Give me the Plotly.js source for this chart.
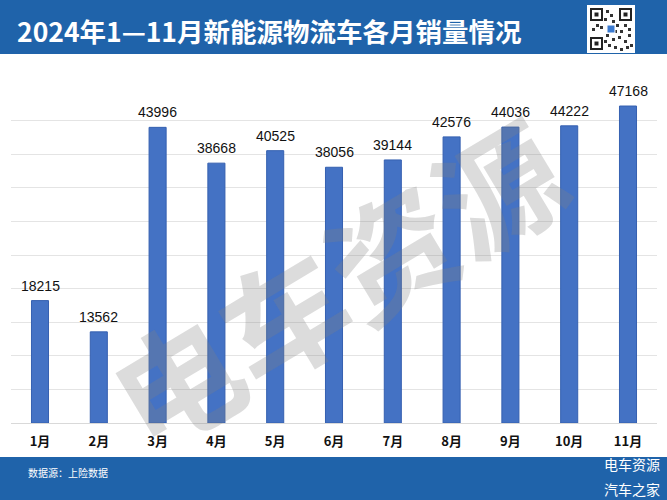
<!DOCTYPE html>
<html>
<head>
<meta charset="utf-8">
<script src="https://cdn.plot.ly/plotly-3.0.1.min.js"></script>
<style>html,body{margin:0;padding:0;background:#fff;}#chart{width:667px;height:500px;}</style>
</head>
<body>
<div id="chart"></div>
<script>
const months = ["1月","2月","3月","4月","5月","6月","7月","8月","9月","10月","11月"];
const sales = [18215, 13562, 43996, 38668, 40525, 38056, 39144, 42576, 44036, 44222, 47168];
const titleText = "2024年1—11月新能源物流车各月销量情况";
const sourceText = "数据源：上险数据";
const brandTop = "电车资源";
const brandBottom = "汽车之家";
const watermarkText = "电车资源";

const W = 667, H = 500;
const px = x => x / W;
const py = y => 1 - y / H;

const trace = {
  type: "bar",
  x: months,
  y: sales,
  marker: {color: "#4472c4", line: {color: "#3560b0", width: 1}},
  hoverinfo: "skip"
};

// QR decoration shapes
const qr = {x0: 587, y0: 5, x1: 635, y1: 53};
const shapes = [
  {type: "rect", xref: "paper", yref: "paper", x0: 0, x1: 1, y0: py(54), y1: 1, fillcolor: "#1f63aa", line: {width: 0}, layer: "below"},
  {type: "rect", xref: "paper", yref: "paper", x0: 0, x1: 1, y0: 0, y1: py(457), fillcolor: "#1f63aa", line: {width: 0}, layer: "below"},
  {type: "rect", xref: "paper", yref: "paper", x0: px(qr.x0), x1: px(qr.x1), y0: py(qr.y1), y1: py(qr.y0), fillcolor: "#ffffff", line: {width: 0}}
];
const finder = (x, y) => {
  shapes.push({type: "rect", xref: "paper", yref: "paper", x0: px(x), x1: px(x + 11), y0: py(y + 11), y1: py(y), fillcolor: "rgba(0,0,0,0)", line: {color: "#222", width: 2}});
  shapes.push({type: "rect", xref: "paper", yref: "paper", x0: px(x + 3.5), x1: px(x + 7.5), y0: py(y + 7.5), y1: py(y + 3.5), fillcolor: "#222", line: {width: 0}});
};
finder(591, 9); finder(620, 9); finder(591, 38);
const mods = [[606,10],[610,14],[604,18],[612,20],[596,24],[600,26],[608,26],[616,24],[624,24],[628,28],[620,30],[606,34],[612,38],[618,36],[624,40],[630,44],[608,44],[614,46],[620,48],[626,46],[604,40],[592,28],[628,34],[614,30]];
mods.forEach(m => shapes.push({type: "rect", xref: "paper", yref: "paper", x0: px(m[0]), x1: px(m[0] + 3), y0: py(m[1] + 3), y1: py(m[1]), fillcolor: "#333", line: {width: 0}}));
shapes.push({type: "rect", xref: "paper", yref: "paper", x0: px(607), x1: px(615), y0: py(33), y1: py(25), fillcolor: "#3b7ad0", line: {color: "#fff", width: 1}});

const annotations = [
  {xref: "paper", yref: "paper", x: px(15), y: py(30), xanchor: "left", yanchor: "middle", showarrow: false,
   text: "<b>" + titleText + "</b>", font: {family: "Noto Sans CJK SC, sans-serif", size: 26.5, color: "#ffffff"}},
  {xref: "paper", yref: "paper", x: px(26), y: py(472), xanchor: "left", yanchor: "middle", showarrow: false,
   text: sourceText, font: {family: "Noto Sans CJK SC, sans-serif", size: 10, color: "#ffffff"}},
  {xref: "paper", yref: "paper", x: px(662), y: py(464), xanchor: "right", yanchor: "middle", showarrow: false,
   text: brandTop, font: {family: "Noto Sans CJK SC, sans-serif", size: 14, color: "#ffffff"}},
  {xref: "paper", yref: "paper", x: px(662), y: py(489), xanchor: "right", yanchor: "middle", showarrow: false,
   text: brandBottom, font: {family: "Noto Sans CJK SC, sans-serif", size: 14, color: "#ffffff"}},
  {xref: "paper", yref: "paper", x: px(335), y: py(280), xanchor: "center", yanchor: "middle", showarrow: false,
   textangle: -31, text: "<b>" + watermarkText + "</b>",
   font: {family: "Noto Sans CJK SC, sans-serif", size: 125, color: "rgba(130,130,130,0.28)"}}
];
// value labels above each bar, placed through the axes
months.forEach((m, i) => annotations.push({
  xref: "x", yref: "y", x: m, y: sales[i], xanchor: "center", yanchor: "bottom",
  yshift: 5, showarrow: false, text: String(sales[i]),
  font: {family: "Liberation Sans, Arial, sans-serif", size: 14, color: "#111"}
}));

const layout = {
  width: W, height: H,
  margin: {l: 0, r: 0, t: 0, b: 0},
  paper_bgcolor: "#ffffff",
  plot_bgcolor: "#ffffff",
  showlegend: false,
  bargap: 0.71,
  xaxis: {
    domain: [10.6 / W, 657.4 / W],
    type: "category",
    showgrid: false, showline: false, zeroline: false,
    ticks: "", ticklabelstandoff: 9,
    tickfont: {family: "Noto Sans CJK SC, sans-serif", size: 13, color: "#111", weight: "bold"}
  },
  yaxis: {
    domain: [(H - 423) / H, (H - 87) / H],
    range: [0, 50000],
    dtick: 5000,
    showticklabels: false,
    showgrid: true, gridcolor: "#e4e4e4", gridwidth: 1,
    zeroline: true, zerolinecolor: "#d9d9d9", zerolinewidth: 1,
    showline: false, ticks: ""
  },
  shapes: shapes,
  annotations: annotations
};

Plotly.newPlot("chart", [trace], layout, {displayModeBar: false, staticPlot: true});
</script>
</body>
</html>
